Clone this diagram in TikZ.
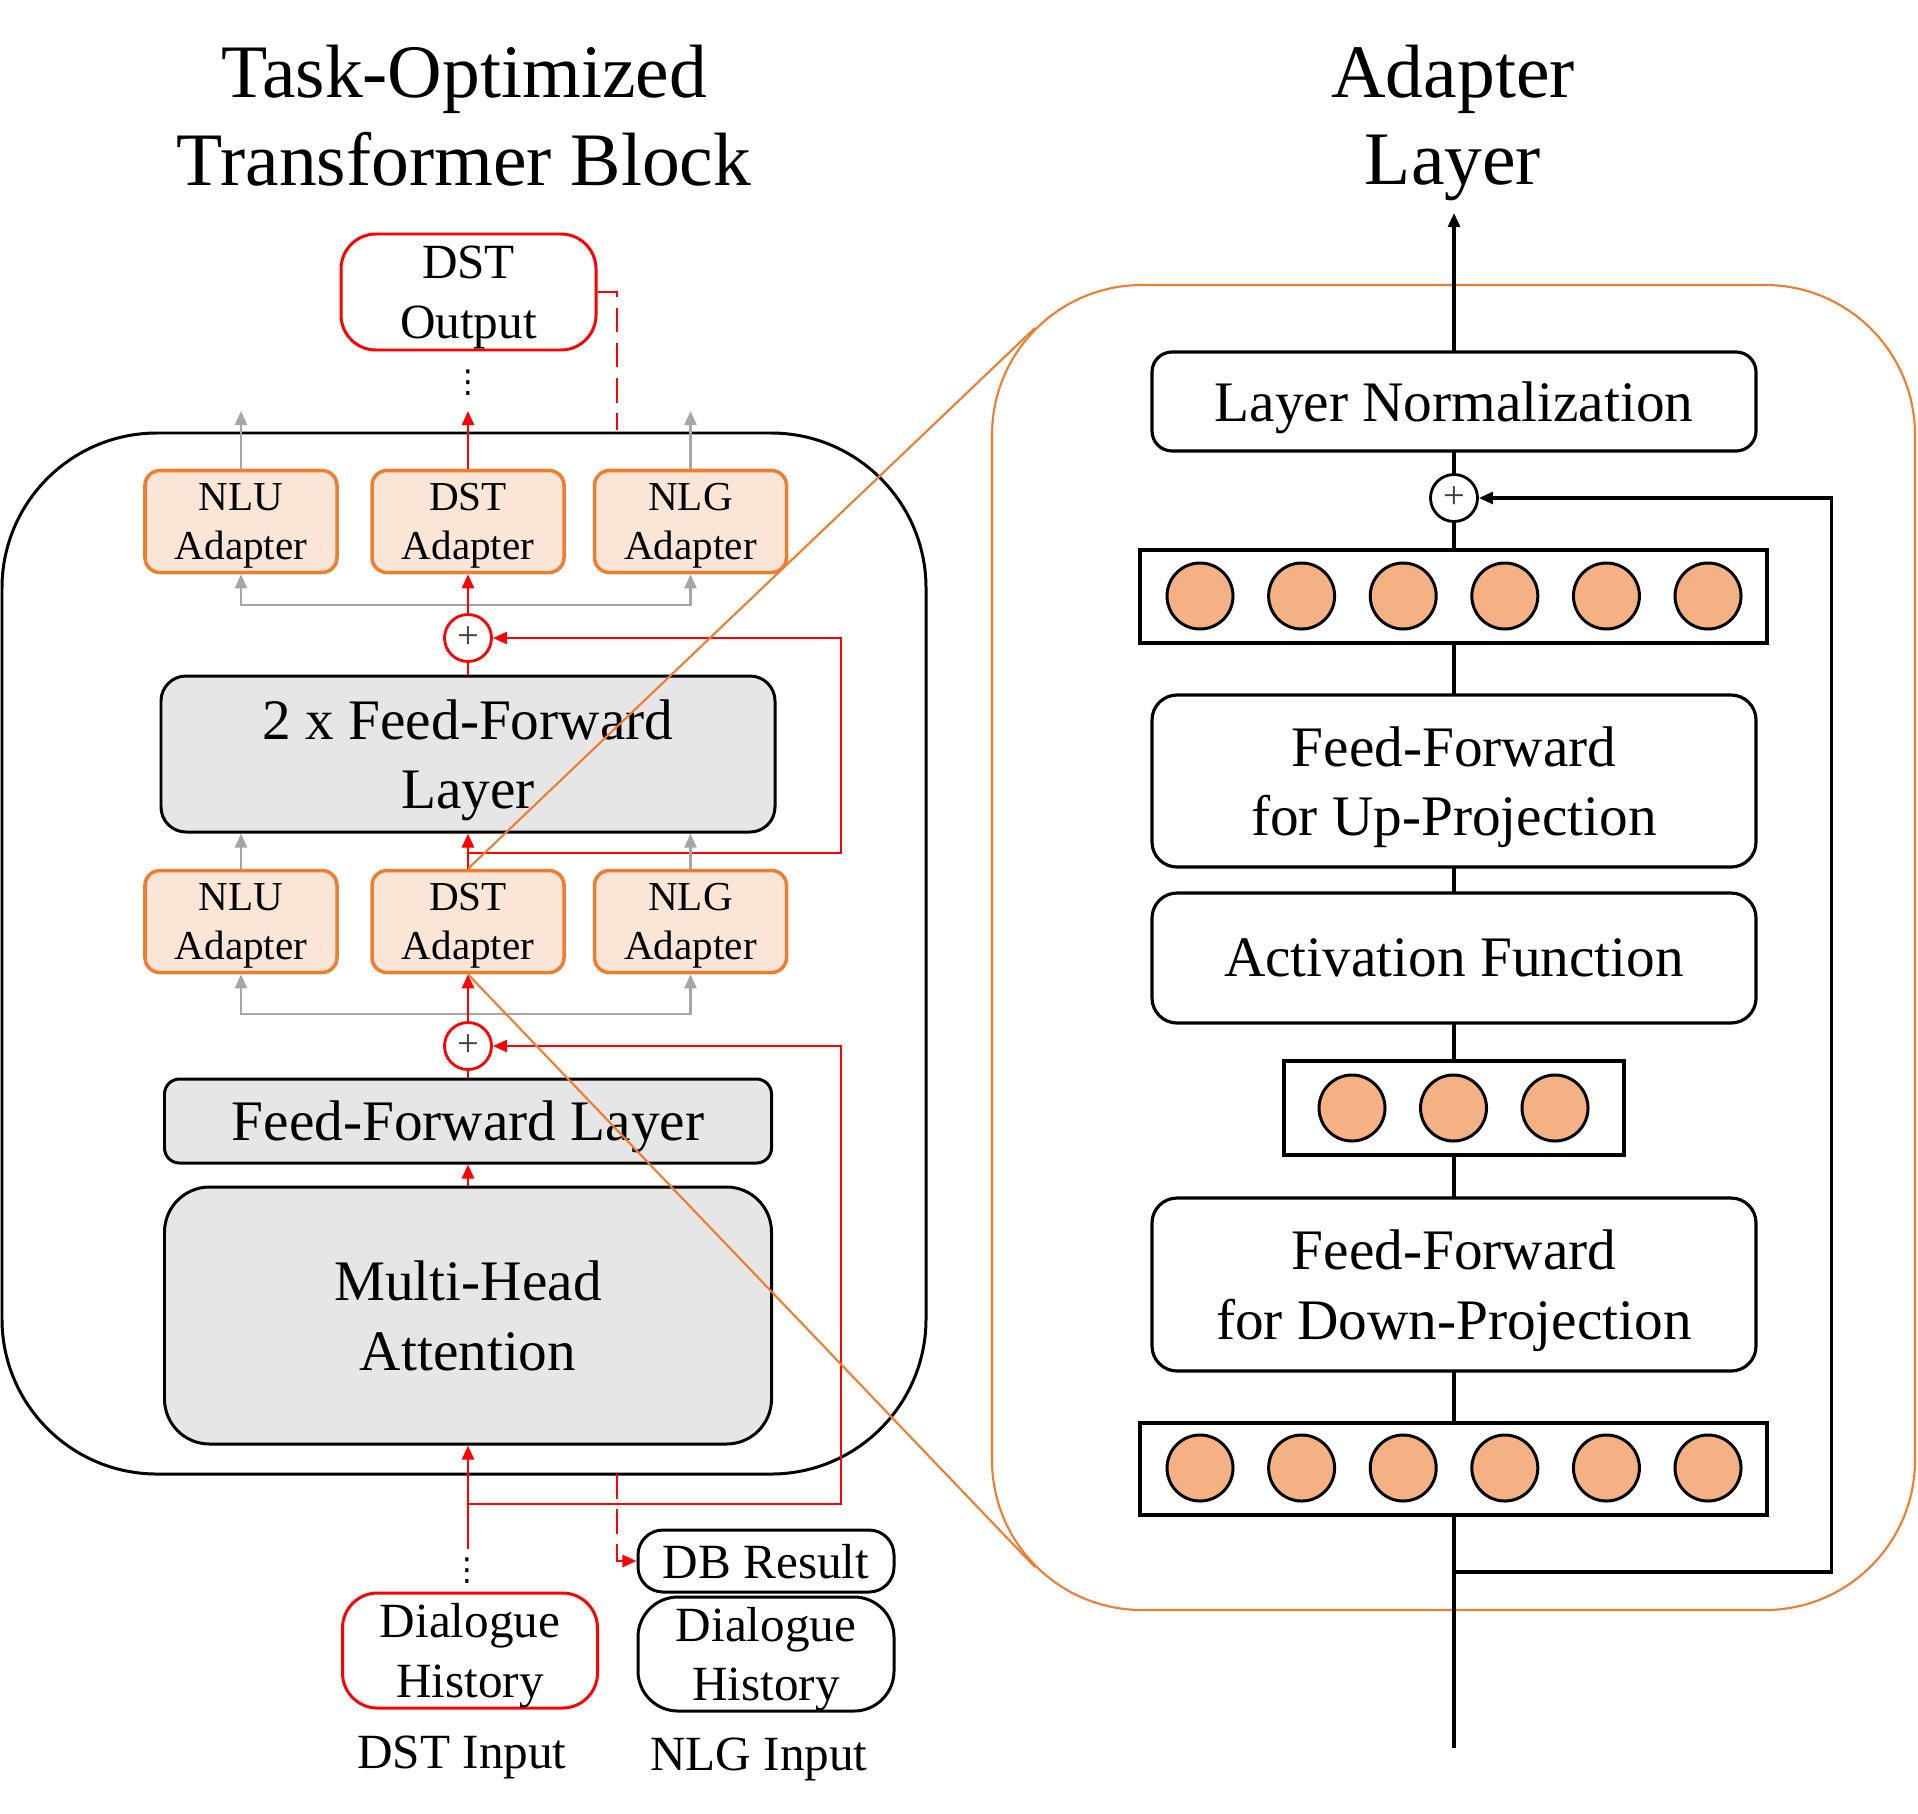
\documentclass[tikz,border=0pt]{standalone}
\usepackage{fontspec}
\setmainfont{Liberation Serif}
\newfontfamily\dotsfont{DejaVu Sans}
\usepackage{tikz}
\usetikzlibrary{arrows.meta,positioning,calc}
\definecolor{ocre}{RGB}{237,125,49}
\definecolor{adfill}{RGB}{251,229,214}
\definecolor{boxgrey}{RGB}{230,230,230}
\definecolor{arrgrey}{RGB}{166,166,166}
\definecolor{neuron}{RGB}{244,177,131}
\definecolor{plusgrey}{RGB}{64,64,64}

\begin{document}
\begin{tikzpicture}[
  font=\fontsize{16.3}{19.7}\selectfont,
  ttl/.style={align=center,font=\fontsize{21.5}{25}\selectfont},
  ad/.style={draw=ocre,fill=adfill,rounded corners=0.15cm,line width=1pt,
             minimum width=1.92cm,minimum height=1.02cm,inner sep=0pt,
             text depth=0pt,align=center,font=\fontsize{11.7}{13.9}\selectfont},
  gb/.style={draw=black,fill=boxgrey,line width=0.85pt,minimum width=6.07cm,
             inner sep=0pt,text depth=0pt,align=center},
  wb/.style={draw=black,fill=white,rounded corners=0.25cm,line width=0.9pt,
             minimum width=6.04cm,inner sep=0pt,text depth=0pt,align=center},
  io/.style={draw=#1,rounded corners=0.35cm,line width=0.85pt,inner sep=0pt,
             minimum width=2.55cm,text depth=0pt,align=center,
             font=\fontsize{14}{17}\selectfont},
  vdot/.style={inner sep=0pt,font=\dotsfont\fontsize{9}{9}\selectfont},
  sumnode/.style={circle,draw=#1,fill=white,line width=0.8pt,minimum size=0.47cm,
             inner sep=0pt,text=plusgrey,font=\fontsize{11}{11}\selectfont},
  layerbox/.style={draw=black,fill=white,line width=0.9pt,inner sep=0pt},
  unitc/.style={circle,draw=black,fill=neuron,line width=0.85pt,
             minimum size=0.66cm,inner sep=0pt},
  rd/.style={draw=red,line width=0.75pt},
  rdd/.style={rd,dash pattern=on 7pt off 3pt},
  ra/.style={rd,-{Triangle[length=4pt,width=3.4pt]}},
  ga/.style={draw=arrgrey,line width=0.75pt,-{Triangle[length=4pt,width=3.4pt]}},
  bk/.style={draw=black,line width=0.9pt},
  ba/.style={bk,-{Triangle[length=4pt,width=3.4pt]}},
  zl/.style={draw=ocre,line width=0.6pt}]

\useasboundingbox (0,0) rectangle (19.18,-18.13);

% titles
\node[ttl] (ttlL) at (4.64,-1.16) {Task-Optimized\\Transformer Block};
\node[ttl] (ttlR) at (14.53,-1.23) {Adapter\\Layer};

% outer frames
\node[draw=black,line width=0.85pt,rounded corners=1.55cm,minimum width=9.24cm,
  minimum height=10.41cm] (block) at (4.64,-9.535) {};
\node[draw=ocre,line width=0.6pt,rounded corners=1.5cm,minimum width=9.23cm,
  minimum height=13.25cm] (adbox) at (14.535,-9.475) {};

% task-optimized block
\node[io=red,minimum height=1.16cm] (dstout) at (4.685,-2.92) {DST\\Output};
\node[vdot] (dotsout) at (4.68,-3.83) {⋮};
\node[ad] (nluA) at (2.41,-5.215) {NLU\\Adapter};
\node[ad] (dstA) at (4.68,-5.215) {DST\\Adapter};
\node[ad] (nlgA) at (6.905,-5.215) {NLG\\Adapter};
\node[sumnode=red] (sumA) at (4.68,-6.38) {+};
\node[gb,rounded corners=0.25cm,minimum width=6.14cm,minimum height=1.56cm]
  (ffB) at (4.68,-7.54) {2 x Feed-Forward\\Layer};
\node[ad] (nluB) at (2.41,-9.215) {NLU\\Adapter};
\node[ad] (dstB) at (4.68,-9.215) {DST\\Adapter};
\node[ad] (nlgB) at (6.905,-9.215) {NLG\\Adapter};
\node[sumnode=red] (sumB) at (4.68,-10.46) {+};
\node[gb,rounded corners=0.15cm,minimum height=0.84cm] (ffA) at (4.68,-11.21)
  {Feed-Forward Layer};
\node[gb,rounded corners=0.45cm,minimum height=2.57cm] (mha) at (4.68,-13.155)
  {Multi-Head\\Attention};
\node[vdot] (dotsin) at (4.67,-15.71) {⋮};
\node[io=red,minimum height=1.15cm] (dhA) at (4.70,-16.505) {Dialogue\\History};
\node[io=black,minimum width=2.56cm,minimum height=0.62cm,rounded corners=0.25cm]
  (dbres) at (7.66,-15.61) {DB Result};
\node[io=black,minimum width=2.56cm,minimum height=1.14cm,rounded corners=0.4cm]
  (dhB) at (7.66,-16.54) {Dialogue\\History};
\node[anchor=base,font=\fontsize{14}{17}\selectfont] (lblA) at (4.62,-17.68) {DST Input};
\node[anchor=base,font=\fontsize{14}{17}\selectfont] (lblB) at (7.59,-17.70) {NLG Input};

\coordinate (outtop) at (4.68,-4.11);
\coordinate (dtop) at (6.17,-4.30);
\coordinate (dbot) at (6.17,-14.74);
\coordinate (gA) at (4.68,-6.05);
\coordinate (gB) at (4.68,-10.14);
\coordinate (rA) at (4.68,-8.53);
\coordinate (rB) at (4.68,-15.04);
\coordinate (srcA) at (4.68,-15.49);

\draw[ga] (nluA.north) -- (nluA.north |- outtop);
\draw[ga] (nlgA.north) -- (nlgA.north |- outtop);
\draw[ra] (dstA.north) -- (outtop);
\draw[rdd] (dstout.east) -| (dtop);
\draw[ga] (gA) -| (nluA.south);
\draw[ga] (gA) -| (nlgA.south);
\draw[ra] (sumA.north) -- (dstA.south);
\draw[rd] (ffB.north) -- (sumA.south);
\draw[ra] (rA) -| ([xshift=3.48cm]sumA.east) -- (sumA.east);
\draw[ga] (nluB.north) -- (nluB.north |- ffB.south);
\draw[ga] (nlgB.north) -- (nlgB.north |- ffB.south);
\draw[ra] (dstB.north) -- (ffB.south);
\draw[ga] (gB) -| (nluB.south);
\draw[ga] (gB) -| (nlgB.south);
\draw[ra] (sumB.north) -- (dstB.south);
\draw[rd] (ffA.north) -- (sumB.south);
\draw[ra] (mha.north) -- (ffA.south);
\draw[ra] (srcA) -- (mha.south);
\draw[ra] (rB) -| ([xshift=3.48cm]sumB.east) -- (sumB.east);
\draw[rdd,-{Triangle[length=4pt,width=3.4pt]}] (dbot) |- (dbres.west);

% adapter layer
\coordinate (inC) at (14.54,-17.48);
\coordinate (outC) at (14.54,-2.13);
\coordinate (rC) at (14.54,-15.72);
\draw[ba] (inC) -- (outC);

\node[wb,minimum height=0.99cm,rounded corners=0.2cm] (lnorm) at (14.54,-4.015)
  {Layer Normalization};
\node[sumnode=black] (sumC) at (14.54,-4.98) {+};
\node[layerbox,minimum width=6.27cm,minimum height=0.93cm] (neuA) at (14.535,-5.965) {};
\node[wb,minimum height=1.72cm] (ffup) at (14.54,-7.81) {Feed-Forward\\for Up-Projection};
\node[wb,minimum height=1.30cm] (act) at (14.54,-9.58) {Activation Function};
\node[layerbox,minimum width=3.40cm,minimum height=0.94cm] (neuB) at (14.54,-11.08) {};
\node[wb,minimum height=1.73cm] (ffdn) at (14.54,-12.845)
  {Feed-Forward\\for Down-Projection};
\node[layerbox,minimum width=6.27cm,minimum height=0.92cm] (neuC) at (14.535,-14.69) {};
\foreach \i in {0,...,5} {
  \node[unitc] (ua\i) at (12.00+1.016*\i,-5.96) {};
  \node[unitc] (uc\i) at (12.00+1.016*\i,-14.68) {};
}
\foreach \i in {0,1,2}
  \node[unitc] (ub\i) at (13.52+1.015*\i,-11.08) {};

\draw[ba] (rC) -| ([xshift=3.525cm]sumC.east) -- (sumC.east);

% zoom lines
\draw[zl] (dstB.north) -- ($(adbox.north west)+(0.44,-0.44)$);
\draw[zl] (dstB.south) -- ($(adbox.south west)+(0.44,0.44)$);
\end{tikzpicture}
\end{document}
